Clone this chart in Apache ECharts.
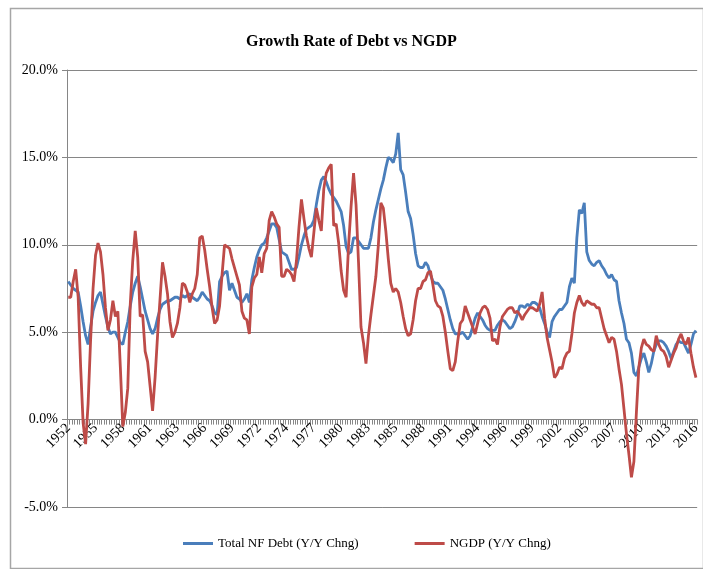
<!DOCTYPE html>
<html>
<head>
<meta charset="utf-8">
<script src="https://cdn.jsdelivr.net/npm/echarts@6/dist/echarts.min.js"></script>
<style>
html,body{margin:0;padding:0;background:#fff;}
#chart{width:703px;height:569px;}
</style>
</head>
<body>
<div id="chart"></div>
<script>
// Quarterly data, first quarter 1952Q4
const startYear = 1952;
const startQuarter = 4;
const yTicks = [-5, 0, 5, 10, 15, 20];
const seriesNames = ['Total NF Debt (Y/Y Chng)', 'NGDP (Y/Y Chng)'];

const debtGrowth = [
7.9,7.7,7.5,7.4,7.3,6.5,5.6,4.8,4.3,5.3,
6.2,6.7,7.1,7.3,6.6,5.9,5.3,4.9,5.0,5.0,
4.7,4.4,4.3,5.0,5.6,6.5,7.3,7.8,8.2,7.6,
6.9,6.2,5.7,5.2,4.9,5.2,5.8,6.3,6.6,6.7,
6.8,6.8,6.9,7.0,7.0,6.9,7.1,7.0,7.1,7.2,
7.0,6.9,6.8,7.0,7.3,7.1,6.9,6.8,6.5,6.1,
6.0,7.9,8.2,8.4,8.5,7.4,7.8,7.4,7.0,6.9,
6.7,6.9,7.2,6.7,8.0,8.7,9.3,9.7,10.0,10.1,
10.4,10.8,11.2,11.2,11.0,10.3,9.6,9.5,9.4,9.0,
8.6,8.6,8.7,9.3,10.0,10.5,10.9,11.0,11.1,11.4,
12.3,13.1,13.7,13.9,13.6,13.2,12.9,12.7,12.5,12.2,
11.9,11.1,9.9,9.5,9.6,10.4,10.4,10.2,10.0,9.8,
9.8,9.8,10.4,11.3,12.0,12.6,13.2,13.7,14.4,15.0,
14.9,14.7,15.2,16.4,14.3,14.0,13.0,11.9,11.5,10.6,
9.5,8.8,8.7,8.7,9.0,8.8,8.3,7.9,7.8,7.8,
7.6,7.4,6.9,6.3,5.7,5.2,4.9,4.9,4.9,5.0,
4.8,4.6,4.8,5.3,5.8,6.1,5.9,5.7,5.4,5.2,
5.1,5.1,5.1,5.4,5.6,5.7,5.6,5.4,5.2,5.3,
5.6,6.0,6.5,6.5,6.4,6.6,6.5,6.7,6.7,6.6,
6.4,5.9,5.5,5.0,4.7,5.6,5.9,6.1,6.3,6.3,
6.5,6.7,7.6,8.1,7.8,10.4,12.0,11.8,12.4,9.6,
9.1,8.9,8.8,9.0,9.1,8.8,8.6,8.3,8.1,8.3,
8.0,7.9,6.8,6.1,5.5,4.6,4.4,3.8,2.7,2.5,
3.0,3.5,3.8,3.3,2.7,3.2,3.9,4.3,4.5,4.5,
4.4,4.2,3.9,3.5,3.9,4.3,4.5,4.4,4.4,4.1,
3.8,4.3,4.9,5.1
];

const ngdpGrowth = [
7.0,7.0,7.9,8.6,7.0,3.0,-0.2,-1.4,0.9,4.5,
7.5,9.4,10.1,9.6,8.3,6.4,5.1,5.7,6.8,5.9,
6.2,3.0,-0.4,0.4,1.8,6.6,9.1,10.8,9.3,5.9,
6.0,3.9,3.3,1.9,0.5,2.4,4.8,6.9,9.0,8.2,
7.2,5.6,4.7,5.0,5.5,6.4,7.8,7.7,7.3,6.7,
7.2,7.5,8.3,10.4,10.5,9.7,8.6,7.6,6.4,5.5,
5.7,6.5,8.3,10.0,9.9,9.8,9.2,8.7,8.2,7.7,
6.2,5.8,5.7,4.9,7.6,8.1,8.3,9.3,8.4,9.5,
9.8,11.4,11.9,11.6,11.2,11.0,8.2,8.2,8.6,8.5,
8.3,7.9,9.1,11.0,12.6,11.5,10.5,9.8,9.3,10.7,
12.1,11.4,10.8,13.2,14.1,14.4,14.6,11.1,11.2,10.1,
8.5,7.4,7.0,10.0,12.2,14.1,12.3,9.0,5.3,4.4,
3.2,4.8,6.0,7.1,8.2,10.0,12.4,12.1,10.8,9.2,
7.8,7.3,7.5,7.3,6.7,5.9,5.2,4.8,4.9,5.7,
6.8,7.5,7.5,7.9,8.0,8.4,8.5,7.7,6.8,6.5,
6.4,5.9,5.0,3.9,2.9,2.8,3.3,4.5,5.5,5.7,
6.5,6.1,5.7,5.3,4.9,5.5,6.1,6.4,6.5,6.3,
5.8,4.5,4.6,4.3,5.3,5.9,6.1,6.3,6.4,6.4,
6.1,6.2,6.0,5.7,6.0,6.2,6.4,6.4,6.3,6.2,
6.6,7.3,5.8,4.7,4.0,3.3,2.4,2.6,3.0,2.9,
3.5,3.8,3.9,4.9,6.1,6.7,7.1,6.7,6.5,6.8,
6.7,6.6,6.6,6.4,6.4,5.8,5.2,4.8,4.4,4.7,
4.6,3.9,2.9,2.0,0.6,-0.8,-2.0,-3.3,-2.4,0.4,
3.0,4.1,4.6,4.3,4.2,4.0,3.9,4.8,4.3,4.0,
3.9,3.6,3.0,3.4,3.8,4.1,4.6,4.9,4.5,4.3,
4.7,3.8,3.0,2.4
];

// quarter categories
const categories = [];
{
  let y = startYear, q = startQuarter;
  for (let i = 0; i < debtGrowth.length; i++) {
    categories.push(y + 'Q' + q);
    q++; if (q > 4) { q = 1; y++; }
  }
}

const FONT = '"Liberation Serif", "Times New Roman", serif';
const GRAY = '#868686';

const chart = echarts.init(document.getElementById('chart'), null, {renderer: 'canvas'});
chart.setOption({
  animation: false,
  backgroundColor: '#fff',
  graphic: [{
    type: 'rect',
    left: 8, top: 6,
    shape: {width: 693, height: 560},
    style: {fill: 'none', stroke: '#a6a6a6', lineWidth: 1.5},
    silent: true
  }],
  title: {
    text: 'Growth Rate of Debt vs NGDP',
    left: 'center',
    top: 29,
    textStyle: {fontFamily: FONT, fontSize: 16, fontWeight: 'bold', color: '#000'}
  },
  legend: {
    data: seriesNames,
    left: 178,
    top: 532,
    icon: 'rect',
    itemWidth: 30,
    itemHeight: 3,
    itemGap: 56,
    textStyle: {fontFamily: FONT, fontSize: 13, color: '#000'}
  },
  grid: {left: 67, right: 3, top: 70, bottom: 62, containLabel: false},
  xAxis: {
    type: 'category',
    data: categories,
    boundaryGap: true,
    axisLine: {onZero: true, lineStyle: {color: GRAY, width: 1}},
    axisTick: {show: true, interval: 0, length: 5, lineStyle: {color: GRAY}},
    axisLabel: {
      interval: 10,
      rotate: 45,
      margin: -81,
      fontFamily: FONT,
      fontSize: 14,
      color: '#000',
      formatter: v => v.slice(0, 4)
    },
    splitLine: {show: false}
  },
  yAxis: {
    type: 'value',
    min: yTicks[0],
    max: yTicks[yTicks.length - 1],
    interval: 5,
    axisLine: {show: true, lineStyle: {color: GRAY, width: 1}},
    axisTick: {show: true, length: 5, lineStyle: {color: GRAY}},
    axisLabel: {
      fontFamily: FONT, fontSize: 14, color: '#000', margin: 9,
      formatter: v => v.toFixed(1) + '%'
    },
    splitLine: {show: true, lineStyle: {color: GRAY, width: 1}}
  },
  series: [
    {
      name: seriesNames[0], type: 'line', data: debtGrowth,
      showSymbol: false, symbol: 'none', z: 3,
      lineStyle: {color: '#4A7EBB', width: 2.8},
      itemStyle: {color: '#4A7EBB'}
    },
    {
      name: seriesNames[1], type: 'line', data: ngdpGrowth,
      showSymbol: false, symbol: 'none', z: 4,
      lineStyle: {color: '#BE4B48', width: 2.8},
      itemStyle: {color: '#BE4B48'}
    }
  ]
});
</script>
</body>
</html>
